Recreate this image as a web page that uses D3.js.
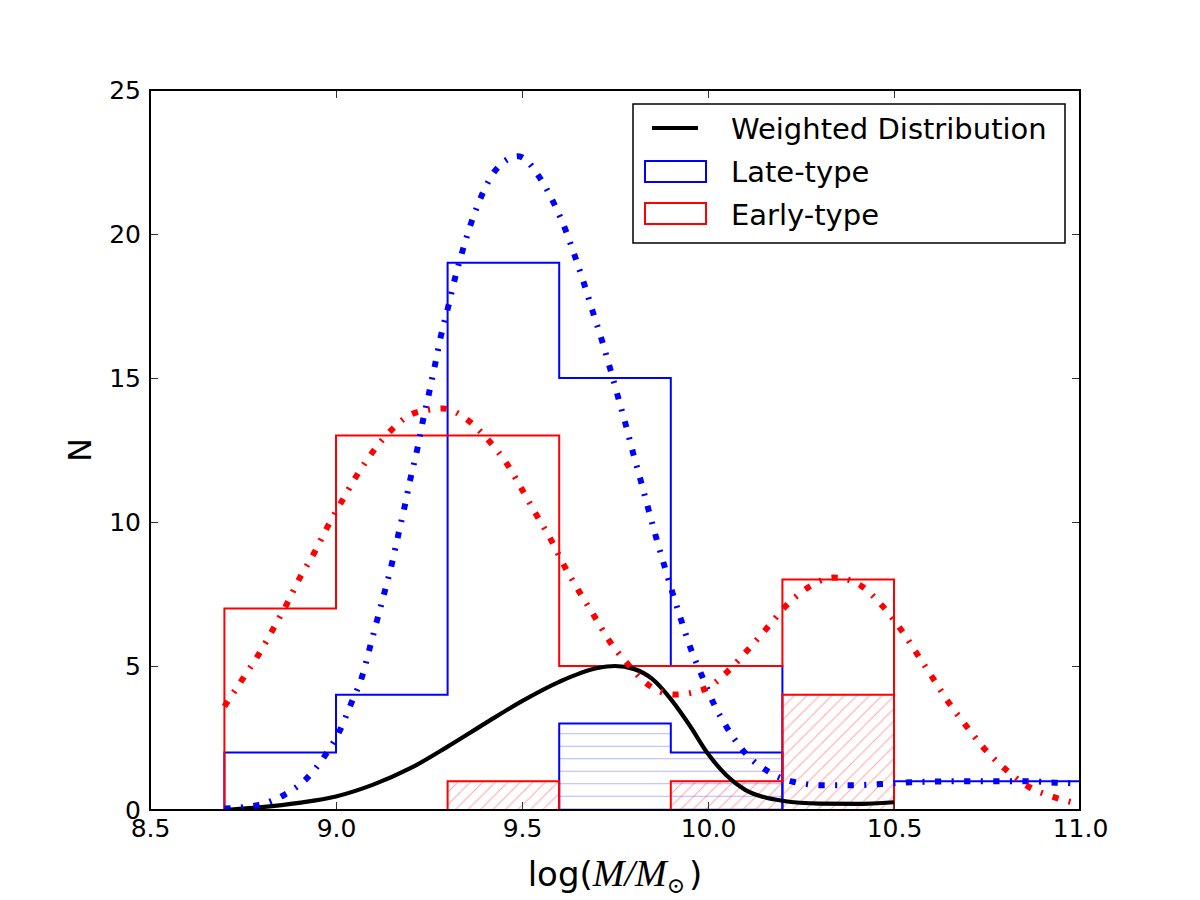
<!DOCTYPE html>
<html>
<head>
<meta charset="utf-8">
<script src="https://cdn.jsdelivr.net/npm/d3@7"></script>
<style>
  body { margin: 0; background: white; }
  svg { display: block; }
</style>
</head>
<body>
<script>
// Histogram bins (log M/Msun) and counts
const binEdges = [8.7, 9.0, 9.3, 9.6, 9.9, 10.2, 10.5, 10.8, 11.1];
const lateCounts = [2, 4, 19, 15, 5, 0, 1, 1];
const earlyCounts = [7, 13, 13, 5, 5, 8, 0, 0];
const lateHatchedCounts = [0, 0, 0, 3, 2, 0, 0, 0];
const earlyHatchedCounts = [0, 0, 1, 0, 1, 4, 0, 0];

// Weighted distribution (black solid)
const weightedCurve = [
  [8.7, 0.0], [8.8, 0.1], [8.9, 0.25], [9.0, 0.47], [9.1, 0.88], [9.2, 1.45],
  [9.3, 2.2], [9.4, 3.0], [9.5, 3.78], [9.6, 4.45], [9.7, 4.92], [9.75, 5.0],
  [9.8, 4.9], [9.85, 4.55], [9.9, 3.85], [9.95, 2.95], [10.0, 1.95], [10.05, 1.2],
  [10.1, 0.7], [10.15, 0.45], [10.2, 0.32], [10.3, 0.22], [10.4, 0.21], [10.5, 0.27]
];

// Late-type fit (blue dash-dot)
const lateCurve = [
  [8.7, 0.05], [8.79, 0.17], [8.86, 0.52], [8.92, 1.08], [8.97, 1.88], [9.01, 2.75],
  [9.04, 3.68], [9.07, 4.63], [9.09, 5.59], [9.11, 6.57], [9.13, 7.54], [9.15, 8.54],
  [9.167, 9.53], [9.184, 10.51], [9.2, 11.5], [9.218, 12.5], [9.233, 13.48], [9.25, 14.47],
  [9.266, 15.45], [9.282, 16.46], [9.301, 17.44], [9.319, 18.42], [9.34, 19.41],
  [9.363, 20.37], [9.391, 21.32], [9.428, 22.2], [9.49, 22.7], [9.548, 21.95],
  [9.586, 21.06], [9.617, 20.14], [9.643, 19.2], [9.668, 18.23], [9.691, 17.27],
  [9.715, 16.3], [9.737, 15.32], [9.758, 14.35], [9.779, 13.37], [9.799, 12.38],
  [9.82, 11.4], [9.84, 10.43], [9.861, 9.44], [9.883, 8.47], [9.905, 7.52], [9.929, 6.55],
  [9.954, 5.59], [9.984, 4.65], [10.014, 3.73], [10.052, 2.84], [10.098, 2.01],
  [10.159, 1.36], [10.229, 0.98], [10.308, 0.86], [10.387, 0.86], [10.466, 0.9],
  [10.543, 0.96], [10.622, 0.99], [10.7, 1.0], [10.778, 1.0], [10.857, 1.0],
  [10.935, 0.95], [11.0, 0.92]
];

// Early-type fit (red dash-dot)
const earlyCurve = [
  [8.7, 3.6], [8.749, 4.55], [8.791, 5.38], [8.83, 6.26], [8.868, 7.16], [8.903, 8.07],
  [8.942, 8.94], [8.977, 9.83], [9.016, 10.73], [9.055, 11.6], [9.099, 12.44],
  [9.15, 13.21], [9.212, 13.79], [9.288, 13.94], [9.356, 13.52], [9.411, 12.82],
  [9.46, 12.01], [9.5, 11.13], [9.539, 10.24], [9.578, 9.38], [9.614, 8.47],
  [9.653, 7.6], [9.694, 6.74], [9.735, 5.87], [9.784, 5.07], [9.838, 4.36],
  [9.911, 4.01], [9.987, 4.18], [10.052, 4.8], [10.105, 5.53], [10.156, 6.28],
  [10.207, 7.05], [10.267, 7.71], [10.339, 8.07], [10.412, 7.78], [10.469, 7.08],
  [10.518, 6.28], [10.561, 5.44], [10.604, 4.59], [10.647, 3.73], [10.694, 2.92],
  [10.743, 2.13], [10.799, 1.42], [10.859, 0.83], [10.934, 0.43], [11.0, 0.2]
];

const xTicks = [8.5, 9.0, 9.5, 10.0, 10.5, 11.0];
const yTicks = [0, 5, 10, 15, 20, 25];
const legendLabels = ["Weighted Distribution", "Late-type", "Early-type"];

// Set up margins
const margin = {left: 150, top: 90, right: 120, bottom: 90};
const outerWidth = 1200;
const outerHeight = 900;
const width = outerWidth - margin.left - margin.right;
const height = outerHeight - margin.top - margin.bottom;
const font = "DejaVu Sans, sans-serif";

const svg = d3.select("body").append("svg")
    .attr("width", outerWidth)
    .attr("height", outerHeight)
    .style("background", "white");

const defs = svg.append("defs");
defs.append("clipPath").attr("id", "plot-clip")
    .append("rect").attr("width", width).attr("height", height);

// Hatch patterns
const redHatch = defs.append("pattern")
    .attr("id", "hatch-red")
    .attr("patternUnits", "userSpaceOnUse")
    .attr("width", 12.5).attr("height", 12.5);
redHatch.append("path")
    .attr("d", "M0,12.5 L12.5,0 M-3,3 L3,-3 M9.5,15.5 L15.5,9.5")
    .attr("stroke", "rgba(255,0,0,0.35)")
    .attr("stroke-width", 1);

const blueHatch = defs.append("pattern")
    .attr("id", "hatch-blue")
    .attr("patternUnits", "userSpaceOnUse")
    .attr("width", 12.5).attr("height", 12.5);
blueHatch.append("path")
    .attr("d", "M0,6.25 L12.5,6.25")
    .attr("stroke", "rgba(0,0,255,0.3)")
    .attr("stroke-width", 1);

const canvas = svg.append("g")
    .attr("transform", `translate(${margin.left}, ${margin.top})`);

// Scales
const xScale = d3.scaleLinear().domain([8.5, 11.0]).range([0, width]);
const yScale = d3.scaleLinear().domain([0, 25]).range([height, 0]);

const stepPoints = (edges, counts) => {
    const pts = [[edges[0], 0]];
    counts.forEach((c, i) => {
        pts.push([edges[i], c]);
        pts.push([edges[i + 1], c]);
    });
    pts.push([edges[edges.length - 1], 0]);
    return pts;
};

const straight = d3.line()
    .x(d => xScale(d[0]))
    .y(d => yScale(d[1]));

const smooth = d3.line()
    .x(d => xScale(d[0]))
    .y(d => yScale(d[1]))
    .curve(d3.curveMonotoneX);

const plot = canvas.append("g").attr("clip-path", "url(#plot-clip)");

// Main histograms
plot.append("path")
    .attr("d", straight(stepPoints(binEdges, lateCounts)))
    .attr("fill", "none")
    .attr("stroke", "#0000ff")
    .attr("stroke-width", 2);

plot.append("path")
    .attr("d", straight(stepPoints(binEdges, earlyCounts)))
    .attr("fill", "none")
    .attr("stroke", "#ff0000")
    .attr("stroke-width", 2);

// Hatched histograms
plot.append("path")
    .attr("d", straight(stepPoints(binEdges, lateHatchedCounts)) + "Z")
    .attr("fill", "url(#hatch-blue)")
    .attr("stroke", "#0000ff")
    .attr("stroke-width", 2);

plot.append("path")
    .attr("d", straight(stepPoints(binEdges, earlyHatchedCounts)) + "Z")
    .attr("fill", "url(#hatch-red)")
    .attr("stroke", "#ff0000")
    .attr("stroke-width", 2);

// Weighted distribution
plot.append("path")
    .datum(weightedCurve)
    .attr("d", smooth)
    .attr("fill", "none")
    .attr("stroke", "black")
    .attr("stroke-width", 4.2);

// Dash-dot fits
const dashDot = "6.25 10.4 2.1 10.4";
plot.append("path")
    .datum(lateCurve)
    .attr("d", smooth)
    .attr("fill", "none")
    .attr("stroke", "#0000ff")
    .attr("stroke-width", 6)
    .attr("stroke-dasharray", dashDot);

plot.append("path")
    .datum(earlyCurve)
    .attr("d", smooth)
    .attr("fill", "none")
    .attr("stroke", "#ff0000")
    .attr("stroke-width", 6)
    .attr("stroke-dasharray", dashDot);

// Axes (ticks inward on all four sides)
const xAxis = d3.axisBottom(xScale).tickValues(xTicks).tickFormat(d3.format(".1f"))
    .tickSizeInner(-8).tickSizeOuter(0).tickPadding(9);
const yAxis = d3.axisLeft(yScale).tickValues(yTicks).tickFormat(d3.format("d"))
    .tickSizeInner(-8).tickSizeOuter(0).tickPadding(9);
const xAxisTop = d3.axisTop(xScale).tickValues(xTicks).tickFormat("")
    .tickSizeInner(-8).tickSizeOuter(0);
const yAxisRight = d3.axisRight(yScale).tickValues(yTicks).tickFormat("")
    .tickSizeInner(-8).tickSizeOuter(0);

const styleAxis = (g) => {
    g.select(".domain").remove();
    g.selectAll("line").attr("stroke", "#333").attr("stroke-width", 1);
    g.selectAll("text").attr("fill", "black")
        .style("font-family", font).style("font-size", "25px");
};

canvas.append("g").attr("transform", `translate(0, ${height})`).call(xAxis).call(styleAxis);
canvas.append("g").call(yAxis).call(styleAxis);
canvas.append("g").call(xAxisTop).call(styleAxis);
canvas.append("g").attr("transform", `translate(${width}, 0)`).call(yAxisRight).call(styleAxis);

// Frame
canvas.append("rect")
    .attr("width", width)
    .attr("height", height)
    .attr("fill", "none")
    .attr("stroke", "black")
    .attr("stroke-width", 2);

// Axis labels
const xLabel = canvas.append("text")
    .attr("x", width / 2)
    .attr("y", height + 76)
    .style("text-anchor", "middle")
    .style("font-family", font)
    .style("font-size", "34px")
    .attr("fill", "black");
xLabel.append("tspan").text("log(");
xLabel.append("tspan").text("M/M")
    .style("font-family", "Liberation Serif, DejaVu Serif, serif")
    .style("font-style", "italic")
    .style("font-size", "38px");
xLabel.append("tspan").text("\u2299")
    .attr("dy", 7)
    .style("font-family", "DejaVu Serif, serif")
    .style("font-size", "22px");
xLabel.append("tspan").text(")").attr("dy", -7).attr("dx", 4);

canvas.append("text")
    .text("N")
    .style("text-anchor", "middle")
    .attr("transform", `translate(-59, ${height / 2}) rotate(-90)`)
    .style("font-family", font)
    .style("font-size", "32px")
    .attr("fill", "black");

// Legend
const legend = svg.append("g").attr("transform", "translate(633, 104)");
legend.append("rect")
    .attr("width", 432)
    .attr("height", 139)
    .attr("fill", "white")
    .attr("stroke", "black")
    .attr("stroke-width", 1.5);

legend.append("line")
    .attr("x1", 19).attr("x2", 65)
    .attr("y1", 24).attr("y2", 24)
    .attr("stroke", "black")
    .attr("stroke-width", 4.2);

legend.append("rect")
    .attr("x", 12).attr("y", 57)
    .attr("width", 61).attr("height", 21)
    .attr("fill", "none")
    .attr("stroke", "#0000ff")
    .attr("stroke-width", 2);

legend.append("rect")
    .attr("x", 12).attr("y", 99)
    .attr("width", 61).attr("height", 21)
    .attr("fill", "none")
    .attr("stroke", "#ff0000")
    .attr("stroke-width", 2);

legend.selectAll(".legend-label")
    .data(legendLabels)
    .join("text")
    .attr("class", "legend-label")
    .attr("x", 98)
    .attr("y", (d, i) => 35 + i * 43)
    .text(d => d)
    .style("font-family", font)
    .style("font-size", "29px")
    .attr("fill", "black");
</script>
</body>
</html>
